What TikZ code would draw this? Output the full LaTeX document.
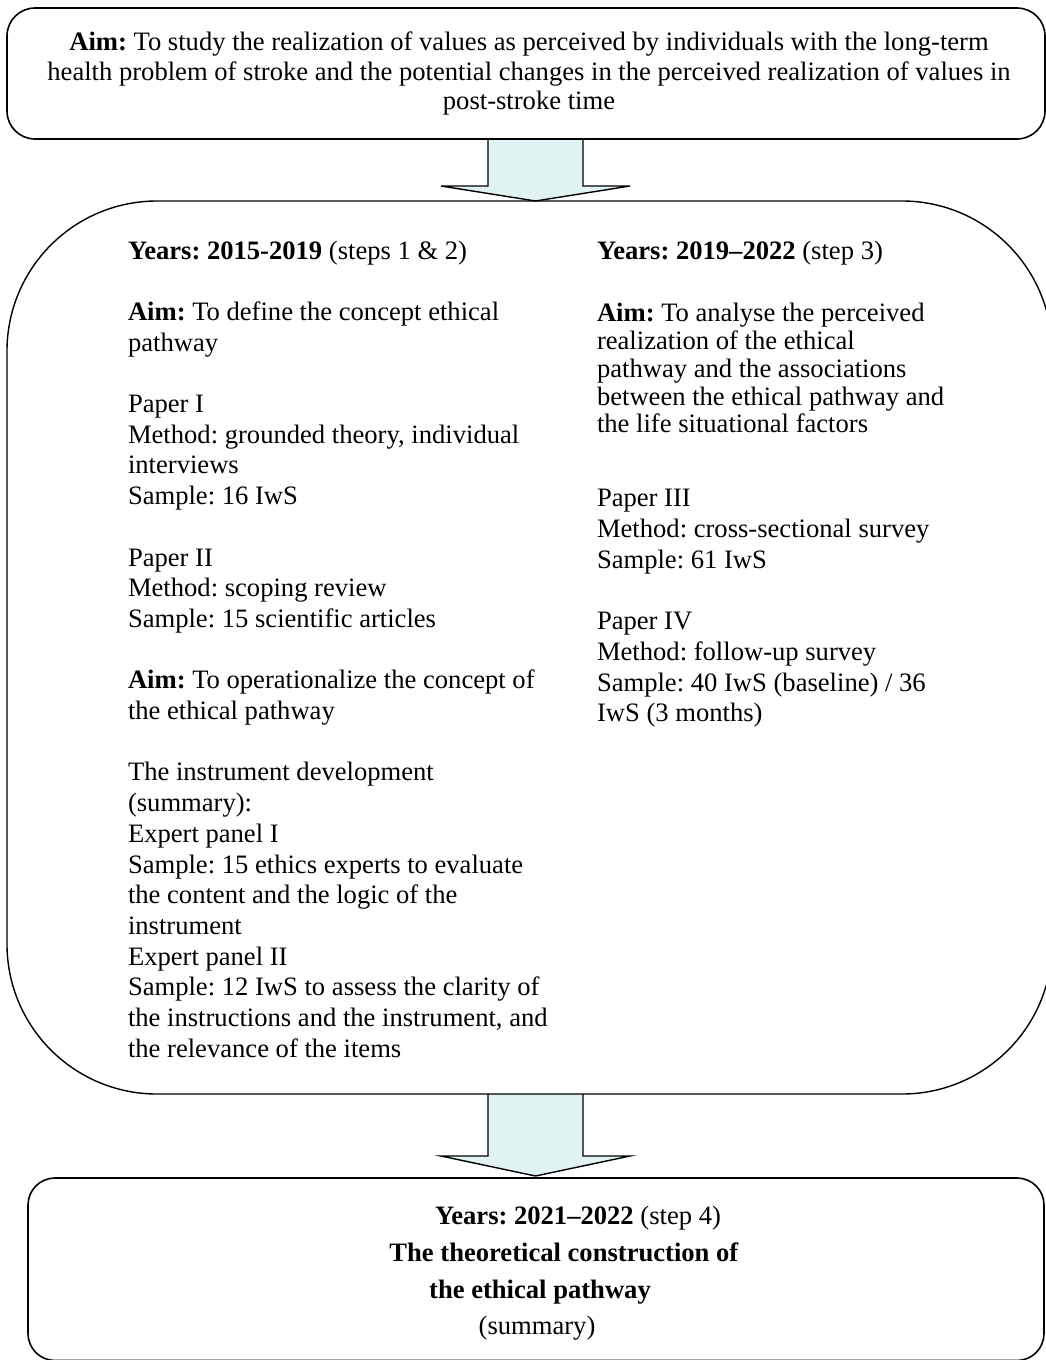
\documentclass[tikz,border=0pt]{standalone}
\usepackage{fontspec}
\setmainfont{Liberation Serif}
\frenchspacing
\definecolor{arrowfill}{HTML}{E0F2F2}
\tikzset{
  frame/.style={draw=black, line width=1.6pt},
  bigarrow/.style={fill=arrowfill, draw=black, line width=1.4pt, line join=miter},
  txt/.style={inner sep=0pt, outer sep=0pt},
  wide/.style={txt, font=\fontsize{26.6}{30.7}\selectfont\frenchspacing},
  tight/.style={txt, font=\fontsize{26.6}{27.7}\selectfont\frenchspacing},
  coltxt/.style={wide, anchor=north west, align=left},
  ctxt/.style={wide, anchor=base}
}
\begin{document}
\begin{tikzpicture}[x=1pt, y=-1pt]
  \clip (0,0) rectangle (1046,1360);
  \fill[white] (0,0) rectangle (1046,1360);

  % arrows between the boxes
  \draw[bigarrow] (488,139) -- (488,186) -- (441,186) -- (535.5,201) -- (630,186) -- (583,186) -- (583,139);
  \draw[bigarrow] (488,1094) -- (488,1156) -- (441,1156) -- (535.5,1176) -- (630,1156) -- (583,1156) -- (583,1094);

  % top box: overall aim
  \draw[frame, rounded corners=28pt] (7,8) rectangle (1045,139);
  \node[ctxt] (aim1) at (529,50) {\textbf{Aim:} To study the realization of values as perceived by individuals with the long-term};
  \node[ctxt] (aim2) at (529,80) {health problem of stroke and the potential changes in the perceived realization of values in};
  \node[ctxt] (aim3) at (529,109) {post-stroke time};

  % middle box: steps 1 to 3
  \draw[frame, line width=1.4pt, rounded corners=150pt] (7,201) rectangle (1052,1094);

  % left column (first baseline at y = 259)
  \node[coltxt] (left) at (128,237.5) {\strut
    \textbf{Years: 2015-2019} (steps 1 \& 2)\\[30.7pt]
    \textbf{Aim:} To define the concept ethical\\
    pathway\\[30.7pt]
    Paper I\\
    Method: grounded theory, individual\\
    interviews\\
    Sample: 16 IwS\\[30.7pt]
    Paper II\\
    Method: scoping review\\
    Sample: 15 scientific articles\\[30.7pt]
    \textbf{Aim:} To operationalize the concept of\\
    the ethical pathway\\[30.7pt]
    The instrument development\\
    (summary):\\
    Expert panel I\\
    Sample: 15 ethics experts to evaluate\\
    the content and the logic of the\\
    instrument\\
    Expert panel II\\
    Sample: 12 IwS to assess the clarity of\\
    the instructions and the instrument, and\\
    the relevance of the items};

  % right column
  \node[ctxt, anchor=base west] (ryears) at (597,259) {\textbf{Years: 2019–2022} (step 3)};
  \node[tight, anchor=north west, align=left] (raim) at (597,302.6) {\strut
    \textbf{Aim:} To analyse the perceived\\
    realization of the ethical\\
    pathway and the associations\\
    between the ethical pathway and\\
    the life situational factors};
  \node[coltxt] (rpapers) at (597,485.5) {\strut
    Paper III\\
    Method: cross-sectional survey\\
    Sample: 61 IwS\\[30.7pt]
    Paper IV\\
    Method: follow-up survey\\
    Sample: 40 IwS (baseline) / 36\\
    IwS (3 months)};

  % bottom box: step 4
  \draw[frame, rounded corners=27pt] (28,1178) rectangle (1044,1360.5);
  \node[ctxt] (y4) at (578,1224) {\textbf{Years: 2021–2022} (step 4)};
  \node[ctxt] (t1) at (564,1261) {\textbf{The theoretical construction of}};
  \node[ctxt] (t2) at (540,1298) {\textbf{the ethical pathway}};
  \node[ctxt] (t3) at (537,1334) {(summary)};
\end{tikzpicture}
\end{document}
